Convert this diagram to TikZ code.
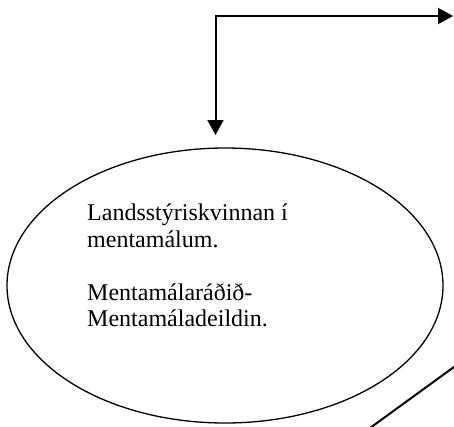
\documentclass[tikz,border=0pt]{standalone}
\usepackage{fontspec}
\setmainfont{Liberation Serif}
\usetikzlibrary{arrows.meta,shapes.geometric}
\tikzset{
  conn/.style={line width=2pt},
  bigtip/.tip={Triangle[length=15pt,width=16pt]},
  bubble/.style={draw,ellipse,line width=1.3pt,inner sep=0pt,minimum width=436pt,minimum height=275pt},
  label/.style={align=left,inner sep=0pt,anchor=north west,font=\fontsize{24}{26.5}\selectfont}
}
\begin{document}
\begin{tikzpicture}[x=1pt,y=-1pt]
\useasboundingbox (0,0) rectangle (454,426);
\node[bubble] (ell) at (225,285.5) {};
\node[label] (txt) at (87,204) {Landsstýriskvinnan í\\mentamálum.\\[26.5pt]Mentamálaráðið-\\Mentamáladeildin.};
\coordinate (corner) at (215.5,16);
\coordinate (right) at (453,16);
\coordinate (down) at (215.5,135);
\draw[conn,bigtip-bigtip] (right) -- (corner) -- (down);
\coordinate (p1) at (370,428);
\coordinate (p2) at (456,365.5);
\draw[conn] (p1) -- (p2);
\end{tikzpicture}
\end{document}
